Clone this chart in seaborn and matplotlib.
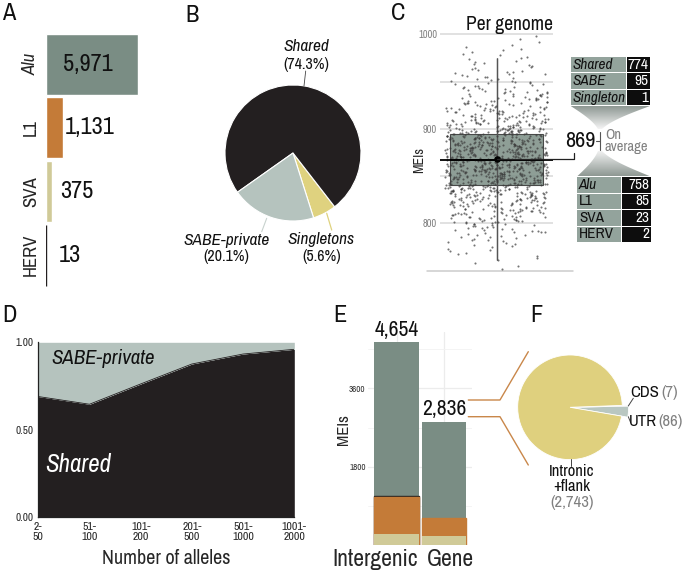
import numpy as np
import pandas as pd
import matplotlib
matplotlib.use('Agg')
import matplotlib.pyplot as plt
from matplotlib import font_manager
from matplotlib.patches import Polygon, Rectangle
from matplotlib.transforms import ScaledTranslation
import seaborn as sns

# ---------------- data ----------------
mei_types = ['Alu', 'L1', 'SVA', 'HERV']
mei_counts = [5971, 1131, 375, 13]

sharing_labels = ['Shared', 'SABE-private', 'Singletons']
sharing_pct = [74.3, 20.1, 5.6]

# per-genome MEI counts, read as a histogram (10-MEI bins)
genome_bin_starts = [750, 760, 770, 780, 790, 800, 810, 820, 830, 840, 850, 860, 870,
                     880, 890, 900, 910, 920, 930, 940, 950, 960, 970, 980, 990]
genome_bin_counts = [3, 5, 8, 13, 20, 30, 40, 52, 65, 85, 95, 98, 92,
                     85, 72, 52, 40, 30, 24, 18, 14, 10, 7, 5, 3]
per_genome_average = 869
avg_class_labels = ['Shared', 'SABE', 'Singleton']
avg_class_values = [774, 95, 1]
avg_type_labels = ['Alu', 'L1', 'SVA', 'HERV']
avg_type_values = [758, 85, 23, 2]

allele_bins = ['2-\n50', '51-\n100', '101-\n200', '201-\n500', '501-\n1000', '1001-\n2000']
shared_fraction = [0.69, 0.646, 0.762, 0.876, 0.933, 0.96]

regions = ['Intergenic', 'Gene']
region_alu = [3527, 2205]
region_l1 = [850, 420]
region_sva = [265, 210]
region_herv = [12, 1]

gene_parts = ['UTR', 'CDS', 'Intronic\n+flank']
gene_part_counts = [86, 7, 2743]

# ---------------- style ----------------
sns.set_theme(style='white')
names = {f.name for f in font_manager.fontManager.ttflist}
FONT = 'Liberation Sans'
for cand in ['Liberation Sans Narrow', 'Archivo Narrow', 'DejaVu Sans']:
    if cand in names:
        FONT = cand
        break
plt.rcParams['font.family'] = [FONT, 'Liberation Sans', 'DejaVu Sans']
plt.rcParams['text.color'] = '#111111'

C_ALU = '#7a8d84'
C_L1 = '#c47b38'
C_SVA = '#d0ca98'
C_DARK = '#231f20'
C_SABE = '#b5c3be'
C_SINGLE = '#dfd27f'
C_PIEF = '#dfd07e'
C_UTR = '#b9c7c1'
C_TAB = '#93a39c'
GRAY_TXT = '#808080'

W, H = 685, 572
fig = plt.figure(figsize=(6.85, 5.72), dpi=100)


def add_ax(x0, y0, x1, y1, **kw):
    return fig.add_axes([x0 / W, 1 - y1 / H, (x1 - x0) / W, (y1 - y0) / H], **kw)


# ---------------- A: MEI counts ----------------
axA = add_ax(46, 32.3, 146, 287.1)
dfA = pd.DataFrame({'type': mei_types, 'count': mei_counts})
sns.barplot(data=dfA, x='count', y='type', hue='type', order=mei_types,
            palette=[C_ALU, C_L1, C_SVA, C_DARK], width=0.96, saturation=1,
            legend=False, ax=axA)
axA.patches[3].set_edgecolor(C_DARK)
axA.patches[3].set_linewidth(1.0)
axA.set_xlim(0, 6490)
axA.set_ylim(3.5, -0.5)
axA.set_xlabel('')
axA.set_ylabel('')
axA.set_xticks([])
for s in axA.spines.values():
    s.set_visible(False)
axA.tick_params(axis='y', length=0, pad=5, labelsize=13.5)
for lbl in axA.get_yticklabels():
    lbl.set_rotation(90)
    lbl.set_va('center')
    if lbl.get_text() == 'Alu':
        lbl.set_style('italic')
lab_off = [30.5, 13.2, 10.0, 9.4]
lab_ha = ['center', 'left', 'left', 'left']
for i, v in enumerate(mei_counts):
    axA.annotate(f'{v:,}', xy=(0, i), xytext=(lab_off[i], 0), textcoords='offset points',
                 ha=lab_ha[i], va='center', fontsize=17.5, color='#111111')

# ---------------- B: sharing pie ----------------
axB = add_ax(293 - 85, 153 - 85, 293 + 85, 153 + 85)
orderB = [2, 0, 1]
axB.pie([sharing_pct[i] for i in orderB], colors=[[C_DARK, C_SABE, C_SINGLE][i] for i in orderB],
        startangle=-72.4, counterclock=True,
        wedgeprops=dict(edgecolor='white', linewidth=0.8))
axB.set_xlim(-1.25, 1.25)
axB.set_ylim(-1.25, 1.25)
axB.set_aspect('equal')

# ---------------- C: per genome ----------------
genome_values = np.concatenate([
    s + (np.arange(n) + 0.5) * 10.0 / n for s, n in zip(genome_bin_starts, genome_bin_counts)])
axC = add_ax(440, 31.5, 553, 274.3)
for g in [800, 850, 900, 950, 1000]:
    axC.axhline(g, color='#d9d9d9', lw=1.1, zorder=0)
axC.axhline(750, xmin=-0.118, xmax=1.18, color='#cccccc', lw=1.1, zorder=0, clip_on=False)
sns.boxplot(y=genome_values, width=0.82, color=C_ALU, saturation=1, showcaps=False,
            showfliers=False, whis=1.5, linewidth=0.8, linecolor='#333333',
            medianprops=dict(color='black', linewidth=1.3), ax=axC)
for p in axC.patches:
    p.set_alpha(0.85)
    p.set_zorder(1)
q1, q3 = np.percentile(genome_values, [25, 75])
iqr = q3 - q1
w_lo = genome_values[genome_values >= q1 - 1.5 * iqr].min()
w_hi = genome_values[genome_values <= q3 + 1.5 * iqr].max()
axC.vlines(0, w_lo, w_hi, color='#555555', lw=1.0, zorder=2)
np.random.seed(3)
sns.stripplot(y=genome_values, jitter=0.455, size=1.5, color='#3a3a3a', alpha=0.7,
              linewidth=0, zorder=3, ax=axC)
med = np.median(genome_values)
axC.axhline(med, color='black', lw=1.3, zorder=4)
mean_v = genome_values.mean()
axC.scatter([0], [mean_v], s=14, color='black', zorder=6)
axC.plot([0, 0.689, 0.689], [mean_v, mean_v, mean_v + 6], color='#222222', lw=0.9,
         clip_on=False, zorder=6)
axC.set_xlim(-0.5, 0.5)
axC.set_ylim(746, 1003)
axC.set_yticks([800, 900, 1000])
axC.set_xticks([])
axC.tick_params(axis='y', length=0, pad=2, labelsize=7.5, labelcolor=GRAY_TXT)
for s in axC.spines.values():
    s.set_visible(False)
axC.set_ylabel('MEIs', fontsize=10)
axC.yaxis.set_label_coords(-0.127, 0.47)

# ---------------- D: allele frequency area ----------------
axD = add_ax(38.3, 342.3, 294.3, 517.3)
xd = np.arange(len(allele_bins))
axD.fill_between(xd, 0, shared_fraction, color=C_DARK, lw=0)
axD.fill_between(xd, shared_fraction, 1, color=C_SABE, lw=0)
sns.lineplot(x=xd, y=shared_fraction, color=C_DARK, lw=0.6, ax=axD)
axD.set_xlim(0, len(allele_bins) - 1)
axD.set_ylim(0, 1)
axD.set_xticks(xd)
axD.set_xticklabels(allele_bins, fontsize=8.5, linespacing=1.0)
axD.set_yticks([0, 0.5, 1.0])
axD.set_yticklabels(['0.00', '0.50', '1.00'], fontsize=8)
axD.tick_params(length=2.5, width=0.8, pad=1, color='#222222')
for s in ['top', 'right']:
    axD.spines[s].set_visible(False)
for s in ['left', 'bottom']:
    axD.spines[s].set_color('#222222')
    axD.spines[s].set_linewidth(0.9)
axD.set_xlabel('Number of alleles', fontsize=14.5, labelpad=5)
axD.set_ylabel('')
axD.text(0.052, 0.91, 'SABE-private', transform=axD.transAxes, fontsize=15,
         style='italic', va='center', ha='left', color='#111111')
axD.text(0.026, 0.30, 'Shared', transform=axD.transAxes, fontsize=18,
         style='italic', va='center', ha='left', color='white')

# ---------------- E: genomic context stacked bars ----------------
axE = add_ax(368.4, 331.7, 472.2, 545.1)
cum_sva = np.array(region_sva)
cum_l1 = cum_sva + np.array(region_l1)
cum_herv = cum_l1 + np.array(region_herv)
cum_all = cum_herv + np.array(region_alu)
layers = [(cum_all, C_ALU), (cum_herv, C_DARK), (cum_l1, C_L1), (cum_sva, C_SVA)]
for vals, col in layers:
    n0 = len(axE.patches)
    sns.barplot(x=regions, y=vals, order=regions, color=col, saturation=1, width=0.943,
                ax=axE, zorder=2)
    for p, h in zip(axE.patches[n0:], region_herv):
        if col == C_DARK:
            p.set_edgecolor(C_DARK)
            p.set_linewidth(1.0 if h > 5 else 0)
        elif col == C_L1:
            p.set_edgecolor(C_L1)
            p.set_linewidth(1.0)
        else:
            p.set_linewidth(0)
axE.set_xlim(-0.6, 1.6)
axE.set_ylim(0, 4900)
axE.set_yticks([1800, 3600])
axE.set_yticks([900, 2700, 4500], minor=True)
axE.grid(which='major', axis='both', color='#ececec', lw=0.9)
axE.grid(which='minor', axis='y', color='#f2f2f2', lw=0.6)
axE.set_axisbelow(True)
for s in axE.spines.values():
    s.set_visible(False)
axE.tick_params(axis='y', which='both', length=0, pad=2, labelsize=6.5, labelcolor='#333333')
axE.tick_params(axis='x', length=0, pad=3, labelsize=17)
for lbl, dx in zip(axE.get_xticklabels(), [-22, 7]):
    lbl.set_transform(lbl.get_transform() + ScaledTranslation(dx / 100, 0, fig.dpi_scale_trans))
axE.set_ylabel('MEIs', fontsize=12)
axE.yaxis.set_label_coords(-0.168, 0.54)
for i, t in enumerate(cum_all):
    axE.annotate(f'{t:,}', xy=(i, t), xytext=(0, 2), textcoords='offset points',
                 ha='center', va='bottom', fontsize=15.5, clip_on=False)

# ---------------- F: gene pie ----------------
axF = add_ax(570 - 70, 407.3 - 70, 570 + 70, 407.3 + 70)
wedgesF, _ = axF.pie(gene_part_counts, colors=[C_UTR, C_ALU, C_PIEF], startangle=-9.7,
                     counterclock=True, wedgeprops=dict(edgecolor='white', linewidth=0.6))
wedgesF[0].set_radius(1.12)
wedgesF[1].set_radius(1.12)
axF.set_xlim(-1.338, 1.338)
axF.set_ylim(-1.338, 1.338)
axF.set_aspect('equal')

# ---------------- overlay: labels, tables, connectors ----------------
ov = fig.add_axes([0, 0, 1, 1], facecolor='none', zorder=10)
ov.set_xlim(0, W)
ov.set_ylim(H, 0)
ov.axis('off')

for letter, x, y in [('A', 2, 13), ('B', 185, 15), ('C', 391, 13),
                     ('D', 2, 316), ('E', 333, 316), ('F', 530, 316)]:
    ov.text(x, y, letter, fontsize=17.5, ha='left', va='center', color='#111111')

# B labels
ov.text(306.7, 46.7, sharing_labels[0], fontsize=12.5, style='italic', ha='center', va='center')
ov.text(306.7, 64, f'({sharing_pct[0]}%)', fontsize=11.5, ha='center', va='center')
ov.plot([305.7, 304], [71, 86], color='#444444', lw=0.6)
ov.text(226.7, 240, sharing_labels[1], fontsize=12.5, style='italic', ha='center', va='center')
ov.text(226.7, 256, f'({sharing_pct[1]}%)', fontsize=11.5, ha='center', va='center')
ov.plot([266.7, 261.7], [218.3, 231.7], color='#c8d2ce', lw=0.8)
ov.text(321, 239.3, sharing_labels[2], fontsize=12.5, style='italic', ha='center', va='center')
ov.text(321.7, 256, f'({sharing_pct[2]}%)', fontsize=11.5, ha='center', va='center')
ov.plot([326.7, 331.7], [213.3, 230], color=C_SINGLE, lw=0.9)

# C title and tables
ov.text(510, 25, 'Per genome', fontsize=14, ha='center', va='center')


def table(x0, xm, x1, y0, rh, labels, values, italic):
    for k, (lab, val) in enumerate(zip(labels, values)):
        yt = y0 + k * rh
        ov.add_patch(Rectangle((x0, yt), xm - x0, rh - 1, color=C_TAB, lw=0))
        ov.add_patch(Rectangle((xm + 0.8, yt), x1 - xm - 0.8, rh - 1, color='#0d0d0d', lw=0))
        ov.text(x0 + 2, yt + rh / 2 - 0.3, lab, fontsize=11, ha='left', va='center',
                style='italic' if italic[k] else 'normal', color='#111111')
        ov.text(x1 - 1.5, yt + rh / 2 - 0.3, f'{val}', fontsize=11, ha='right', va='center',
                color='white')


table(570.7, 626.5, 650, 57, 16.4, avg_class_labels, avg_class_values, [True, True, True])
table(577, 621, 650.7, 177, 16.5, avg_type_labels, avg_type_values, [True, False, False, False])


def funnel(xl, xr, y_wide, xn, y_neck, dark_top):
    t = np.linspace(0, 1, 40)
    s = 0.5 * (t + np.sin(t * np.pi / 2))
    yy = y_wide + (y_neck - y_wide) * t
    left = xl + (xn - 2 - xl) * s
    right = xr - (xr - (xn + 2)) * s
    pts = np.concatenate([np.column_stack([left, yy]), np.column_stack([right, yy])[::-1]])
    poly = Polygon(pts, closed=True, facecolor='none', edgecolor='none')
    ov.add_patch(poly)
    grad = np.linspace(0, 1, 64).reshape(-1, 1)
    if not dark_top:
        grad = grad[::-1]
    ymin, ymax = min(y_wide, y_neck), max(y_wide, y_neck)
    im = ov.imshow(grad, cmap=matplotlib.colors.LinearSegmentedColormap.from_list(
        'g', ['#8e9893', '#f4f4f4']), extent=[xl, xr, ymax, ymin], aspect='auto',
        interpolation='bilinear', zorder=1)
    im.set_clip_path(poly)


funnel(570.7, 650, 106, 600, 129, True)
funnel(577, 650.7, 176.5, 600, 151, False)
ov.set_xlim(0, W)
ov.set_ylim(H, 0)

ov.text(596, 141, f'{per_genome_average}', fontsize=16, ha='right', va='center')
ov.plot([600, 600], [132, 150], color='#555555', lw=0.8)
ov.plot([596.5, 600], [141, 141], color='#555555', lw=0.8)
ov.text(605, 141, 'On\naverage', fontsize=10.5, ha='left', va='center', color=GRAY_TXT,
        linespacing=0.85)

# E-F connectors
ov.plot([468.3, 500, 528.3], [400, 400, 351.7], color='#c9874a', lw=1.0)
ov.plot([468.3, 500, 528.3], [416.7, 416.7, 465], color='#c9874a', lw=1.0)

# F labels
ov.plot([628.3, 633.3], [406, 398.3], color='#444444', lw=0.7)
ov.plot([628.3, 630.7], [416.7, 422.7], color='#444444', lw=0.7)
ov.plot([570.7, 570.7], [459.3, 465.7], color='#444444', lw=0.7)
ov.text(630, 392.7, gene_parts[1], fontsize=12, ha='left', va='center')
ov.text(661, 392.7, f'({gene_part_counts[1]:,})', fontsize=12, ha='left', va='center', color=GRAY_TXT)
ov.text(629.3, 421.7, gene_parts[0], fontsize=12, ha='left', va='center')
ov.text(658, 421.7, f'({gene_part_counts[0]:,})', fontsize=12, ha='left', va='center', color=GRAY_TXT)
ov.text(571.7, 479, gene_parts[2], fontsize=12, ha='center', va='center', linespacing=1.0)
ov.text(571.7, 502, f'({gene_part_counts[2]:,})', fontsize=12, ha='center', va='center', color=GRAY_TXT)

fig.savefig('out.png', dpi=100)
